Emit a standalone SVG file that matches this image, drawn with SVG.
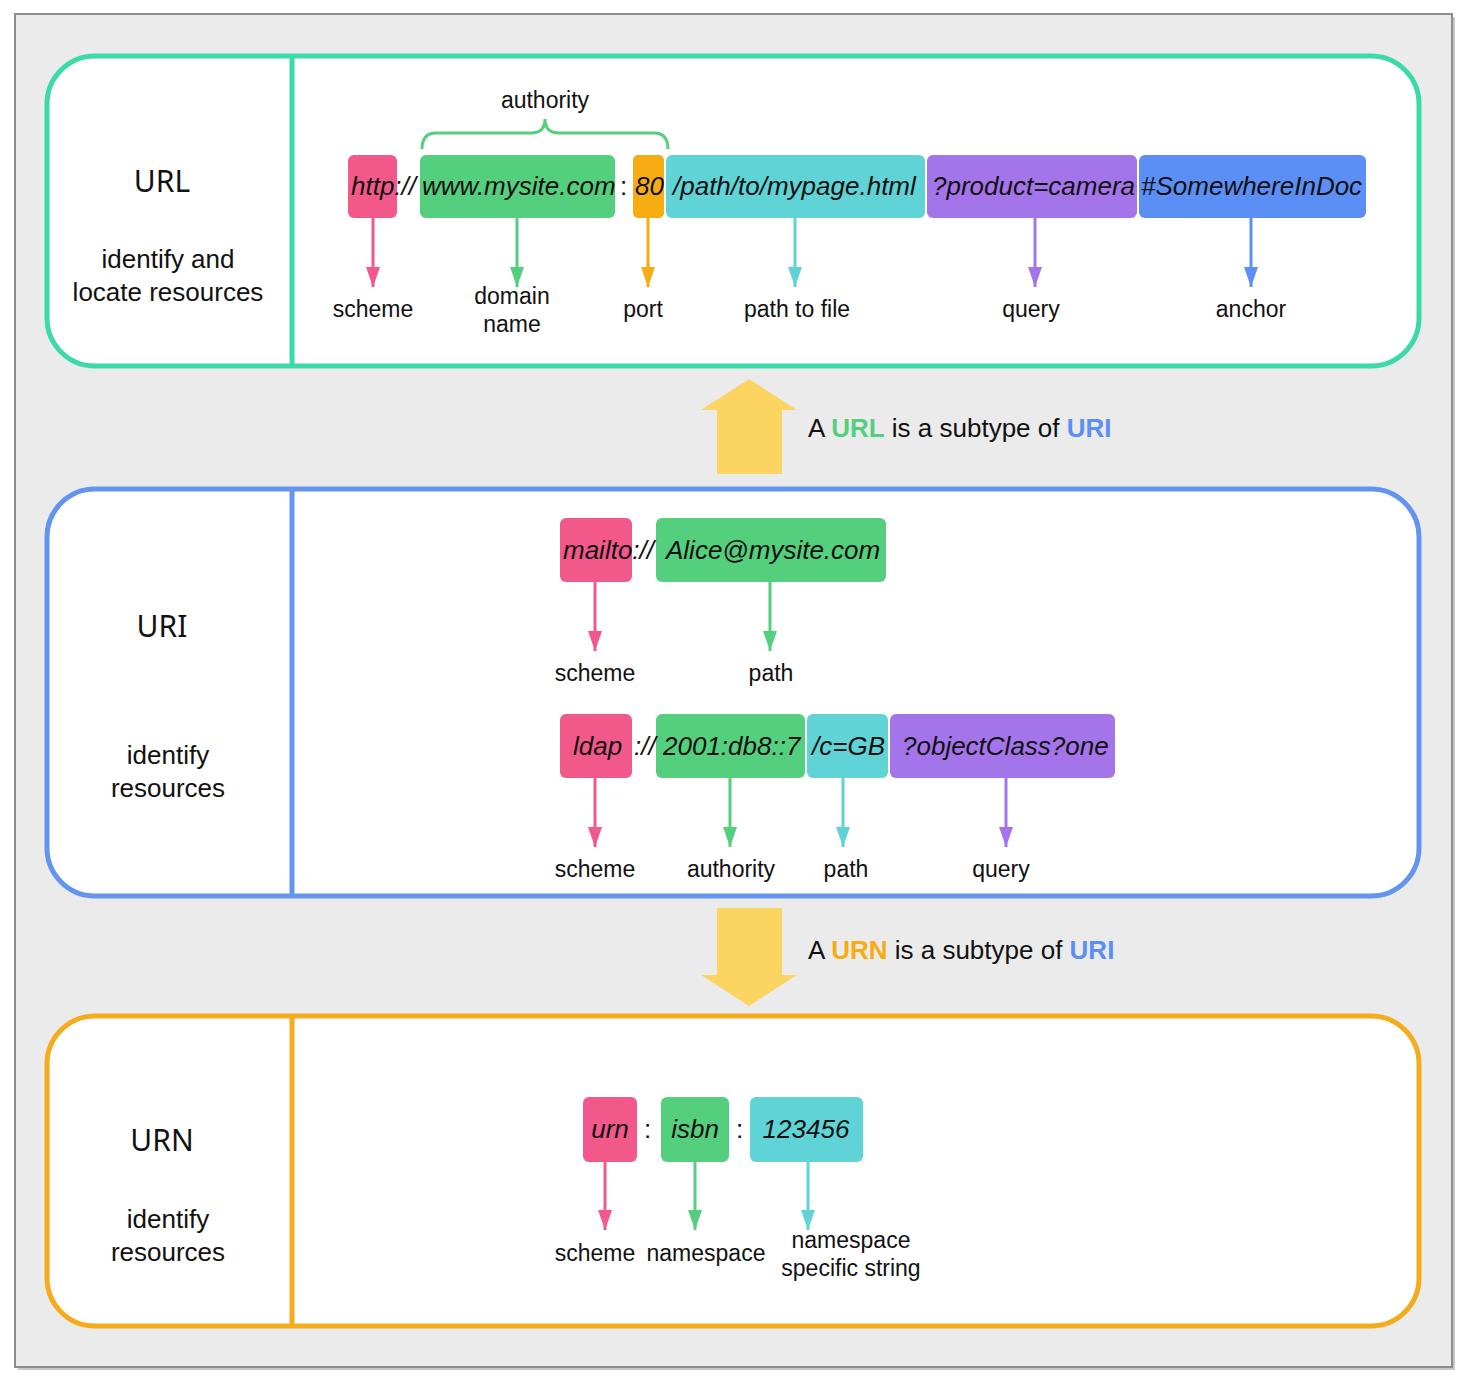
<svg xmlns="http://www.w3.org/2000/svg" width="1470" height="1385" viewBox="0 0 1470 1385">
<style>
.title{font-family:"Noto Sans","DejaVu Sans",sans-serif;font-size:30px;fill:#111;text-anchor:middle}
.desc{font-family:"Liberation Sans",Arial,sans-serif;font-size:26px;fill:#111;text-anchor:middle}
.lbl{font-family:"Liberation Sans",Arial,sans-serif;font-size:23px;fill:#111;text-anchor:middle}
.code{font-family:"Liberation Sans",Arial,sans-serif;font-size:26px;font-style:italic;fill:#111}
.codem{font-family:"Liberation Sans",Arial,sans-serif;font-size:26px;font-style:italic;fill:#111;text-anchor:middle}
.sep{font-family:"Liberation Sans",Arial,sans-serif;font-size:26px;font-style:normal;fill:#111}
.note{font-family:"Liberation Sans",Arial,sans-serif;font-size:26px;fill:#111}
.pink{fill:#f2588a}.green{fill:#54cf7d}.orange{fill:#f6ac12}.cyan{fill:#5fd3d6}.purple{fill:#a474ea}.blue{fill:#5b8ff5}
.frame{fill:#fff;stroke-width:5}
.a{stroke-width:3;fill:none}
</style>
<defs>
<marker id="mp" viewBox="0 0 20 14" refX="20" refY="7" markerWidth="20" markerHeight="14" markerUnits="userSpaceOnUse" orient="auto"><path d="M0,0 L20,7 L0,14 z" fill="#f2588a"/></marker>
<marker id="mg" viewBox="0 0 20 14" refX="20" refY="7" markerWidth="20" markerHeight="14" markerUnits="userSpaceOnUse" orient="auto"><path d="M0,0 L20,7 L0,14 z" fill="#54cf7d"/></marker>
<marker id="mo" viewBox="0 0 20 14" refX="20" refY="7" markerWidth="20" markerHeight="14" markerUnits="userSpaceOnUse" orient="auto"><path d="M0,0 L20,7 L0,14 z" fill="#f6ac12"/></marker>
<marker id="mc" viewBox="0 0 20 14" refX="20" refY="7" markerWidth="20" markerHeight="14" markerUnits="userSpaceOnUse" orient="auto"><path d="M0,0 L20,7 L0,14 z" fill="#5fd3d6"/></marker>
<marker id="mu" viewBox="0 0 20 14" refX="20" refY="7" markerWidth="20" markerHeight="14" markerUnits="userSpaceOnUse" orient="auto"><path d="M0,0 L20,7 L0,14 z" fill="#a474ea"/></marker>
<marker id="mb" viewBox="0 0 20 14" refX="20" refY="7" markerWidth="20" markerHeight="14" markerUnits="userSpaceOnUse" orient="auto"><path d="M0,0 L20,7 L0,14 z" fill="#5b8ff5"/></marker>
</defs>

<rect x="18" y="17" width="1437" height="1353" fill="#c8c8c8"/>
<rect x="15" y="14" width="1437" height="1353" fill="#ebebeb" stroke="#8c8c8c" stroke-width="2"/>

<!-- URL section -->
<g id="url">
<rect class="frame" x="47" y="56" width="1372" height="310" rx="48" stroke="#3ddaa9"/>
<line x1="292" y1="56" x2="292" y2="366" stroke="#3ddaa9" stroke-width="5"/>
<text class="title" x="162" y="192">URL</text>
<text class="desc" x="168" y="268">identify and</text>
<text class="desc" x="168" y="301">locate resources</text>
<text class="lbl" x="545" y="108">authority</text>
<path d="M422,149 Q422,133 436,133 L531,133 Q545,133 545,119 Q545,133 559,133 L654,133 Q668,133 668,149" fill="none" stroke="#54cf7d" stroke-width="3"/>
<rect class="pink" x="348" y="155" width="49" height="63" rx="6"/>
<rect class="green" x="420" y="155" width="195" height="63" rx="6"/>
<rect class="orange" x="633" y="155" width="31" height="63" rx="5"/>
<rect class="cyan" x="666" y="155" width="259" height="63" rx="6"/>
<rect class="purple" x="927" y="155" width="210" height="63" rx="6"/>
<rect class="blue" x="1139" y="155" width="227" height="63" rx="6"/>
<text class="code" x="351" y="195">http://</text>
<text class="code" x="422" y="195">www.mysite.com</text>
<text class="sep" x="620" y="195">:</text>
<text class="code" x="635" y="195">80</text>
<text class="code" x="673" y="195">/path/to/mypage.html</text>
<text class="code" x="932" y="195">?product=camera</text>
<text class="code" x="1141" y="195">#SomewhereInDoc</text>
<text class="lbl" x="373" y="317">scheme</text>
<text class="lbl" x="512" y="304">domain</text>
<text class="lbl" x="512" y="332">name</text>
<text class="lbl" x="643" y="317">port</text>
<text class="lbl" x="797" y="317">path to file</text>
<text class="lbl" x="1031" y="317">query</text>
<text class="lbl" x="1251" y="317">anchor</text>
</g>

<!-- URI section -->
<g id="uri">
<rect class="frame" x="47" y="489" width="1372" height="407" rx="48" stroke="#6394f0"/>
<line x1="292" y1="489" x2="292" y2="896" stroke="#6394f0" stroke-width="5"/>
<text class="title" x="162" y="637">URI</text>
<text class="desc" x="168" y="764">identify</text>
<text class="desc" x="168" y="797">resources</text>
<rect class="pink" x="560" y="518" width="72" height="64" rx="6"/>
<rect class="green" x="656" y="518" width="230" height="64" rx="6"/>
<text class="code" x="563" y="559">mailto://</text>
<text class="code" x="666" y="559">Alice@mysite.com</text>
<text class="lbl" x="595" y="681">scheme</text>
<text class="lbl" x="771" y="681">path</text>
<rect class="pink" x="560" y="714" width="72" height="64" rx="6"/>
<rect class="green" x="656" y="714" width="149" height="64" rx="6"/>
<rect class="cyan" x="807" y="714" width="81" height="64" rx="6"/>
<rect class="purple" x="890" y="714" width="225" height="64" rx="6"/>
<text class="code" x="573" y="755">ldap</text>
<text class="code" x="634" y="755">://</text>
<text class="code" x="663" y="755">2001:db8::7</text>
<text class="code" x="812" y="755">/c=GB</text>
<text class="code" x="902" y="755">?objectClass?one</text>
<text class="lbl" x="595" y="877">scheme</text>
<text class="lbl" x="731" y="877">authority</text>
<text class="lbl" x="846" y="877">path</text>
<text class="lbl" x="1001" y="877">query</text>
</g>

<!-- URN section -->
<g id="urn">
<rect class="frame" x="47" y="1016" width="1372" height="310" rx="48" stroke="#f5ac1c"/>
<line x1="292" y1="1016" x2="292" y2="1326" stroke="#f5ac1c" stroke-width="5"/>
<text class="title" x="162" y="1151">URN</text>
<text class="desc" x="168" y="1228">identify</text>
<text class="desc" x="168" y="1261">resources</text>
<rect class="pink" x="583" y="1097" width="54" height="65" rx="6"/>
<rect class="green" x="661" y="1097" width="68" height="65" rx="6"/>
<rect class="cyan" x="750" y="1097" width="113" height="65" rx="6"/>
<text class="codem" x="610" y="1138">urn</text>
<text class="sep" x="644" y="1138">:</text>
<text class="codem" x="695" y="1138">isbn</text>
<text class="sep" x="736" y="1138">:</text>
<text class="codem" x="806" y="1138">123456</text>
<text class="lbl" x="595" y="1261">scheme</text>
<text class="lbl" x="706" y="1261">namespace</text>
<text class="lbl" x="851" y="1248">namespace</text>
<text class="lbl" x="851" y="1276">specific string</text>
</g>

<g id="subtype-url">
<polygon points="749,379 797,410 782,410 782,474 717,474 717,410 701,410" fill="#fcd462"/>
<text class="note" x="808" y="437">A <tspan fill="#54cf7d" font-weight="bold">URL</tspan> is a subtype of <tspan fill="#5b8ff5" font-weight="bold">URI</tspan></text>
</g>
<g id="subtype-urn">
<polygon points="717,908 782,908 782,975 797,975 749,1006 701,975 717,975" fill="#fcd462"/>
<text class="note" x="808" y="959">A <tspan fill="#f6ac12" font-weight="bold">URN</tspan> is a subtype of <tspan fill="#5b8ff5" font-weight="bold">URI</tspan></text>
</g>

<g id="connectors">
<line class="a" x1="373" y1="218" x2="373" y2="287" stroke="#f2588a" marker-end="url(#mp)"/>
<line class="a" x1="517" y1="218" x2="517" y2="287" stroke="#54cf7d" marker-end="url(#mg)"/>
<line class="a" x1="648" y1="218" x2="648" y2="287" stroke="#f6ac12" marker-end="url(#mo)"/>
<line class="a" x1="795" y1="218" x2="795" y2="287" stroke="#5fd3d6" marker-end="url(#mc)"/>
<line class="a" x1="1035" y1="218" x2="1035" y2="287" stroke="#a474ea" marker-end="url(#mu)"/>
<line class="a" x1="1251" y1="218" x2="1251" y2="287" stroke="#5b8ff5" marker-end="url(#mb)"/>
<line class="a" x1="595" y1="582" x2="595" y2="651" stroke="#f2588a" marker-end="url(#mp)"/>
<line class="a" x1="770" y1="582" x2="770" y2="651" stroke="#54cf7d" marker-end="url(#mg)"/>
<line class="a" x1="595" y1="778" x2="595" y2="847" stroke="#f2588a" marker-end="url(#mp)"/>
<line class="a" x1="730" y1="778" x2="730" y2="847" stroke="#54cf7d" marker-end="url(#mg)"/>
<line class="a" x1="843" y1="778" x2="843" y2="847" stroke="#5fd3d6" marker-end="url(#mc)"/>
<line class="a" x1="1006" y1="778" x2="1006" y2="847" stroke="#a474ea" marker-end="url(#mu)"/>
<line class="a" x1="605" y1="1162" x2="605" y2="1230" stroke="#f2588a" marker-end="url(#mp)"/>
<line class="a" x1="695" y1="1162" x2="695" y2="1230" stroke="#54cf7d" marker-end="url(#mg)"/>
<line class="a" x1="808" y1="1162" x2="808" y2="1230" stroke="#5fd3d6" marker-end="url(#mc)"/>
</g>
</svg>
